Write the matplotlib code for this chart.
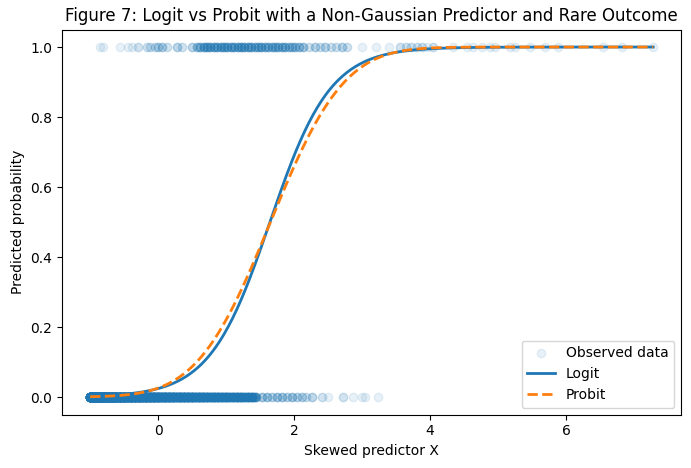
import math
import numpy as np
import matplotlib
matplotlib.use("Agg")
import matplotlib.pyplot as plt

# ---- observed outcomes (x positions, with multiplicity) ----
# y = 0 observations: dense core (-1.00 .. 1.44) then the sparse tail
x_y0 = [-1.00, -0.98, -0.96, -0.94, -0.92, -0.90, -0.88, -0.86, -0.84, -0.82,
        -0.80, -0.78, -0.76, -0.74, -0.72, -0.70, -0.68, -0.66, -0.64, -0.62,
        -0.60, -0.58, -0.56, -0.54, -0.52, -0.50, -0.48, -0.46, -0.44, -0.42,
        -0.40, -0.38, -0.36, -0.34, -0.32, -0.30, -0.28, -0.26, -0.24, -0.22,
        -0.20, -0.18, -0.16, -0.14, -0.12, -0.10, -0.08, -0.06, -0.04, -0.02,
        0.00, 0.02, 0.04, 0.06, 0.08, 0.10, 0.12, 0.14, 0.16, 0.18,
        0.20, 0.22, 0.24, 0.26, 0.28, 0.30, 0.32, 0.34, 0.36, 0.38,
        0.40, 0.42, 0.44, 0.46, 0.48, 0.50, 0.52, 0.54, 0.56, 0.58,
        0.60, 0.62, 0.64, 0.66, 0.68, 0.70, 0.72, 0.74, 0.76, 0.78,
        0.80, 0.82, 0.84, 0.86, 0.88, 0.90, 0.92, 0.94, 0.96, 0.98,
        1.00, 1.02, 1.04, 1.06, 1.08, 1.10, 1.12, 1.14, 1.16, 1.18,
        1.20, 1.22, 1.24, 1.26, 1.28, 1.30, 1.32, 1.34, 1.36, 1.38,
        1.40, 1.42, 1.44,
        1.53, 1.60, 1.67, 1.75, 1.82, 1.90, 1.97, 2.04,
        2.11, 2.18, 2.26, 2.41, 2.50, 2.72, 2.87, 3.00, 3.04, 3.24]
n_y0 = [60, 58, 56, 54, 52, 50, 48, 46, 44, 42,
        40, 39, 38, 37, 36, 35, 34, 33, 32, 31,
        30, 29, 28, 27, 26, 26, 25, 25, 24, 24,
        23, 23, 22, 22, 21, 21, 20, 20, 20, 19,
        19, 19, 18, 18, 18, 17, 17, 17, 16, 16,
        16, 16, 15, 15, 15, 15, 14, 14, 14, 14,
        14, 13, 13, 13, 13, 13, 12, 12, 12, 12,
        12, 12, 11, 11, 11, 11, 11, 11, 10, 10,
        10, 10, 10, 10, 10, 9, 9, 9, 9, 9,
        9, 9, 9, 8, 8, 8, 8, 8, 8, 8,
        8, 8, 8, 7, 7, 7, 7, 7, 7, 7,
        7, 7, 7, 6, 6, 6, 6, 6, 6, 6,
        6, 5, 5,
        4, 4, 3, 4, 4, 3, 4, 3,
        3, 2, 3, 2, 1, 2, 1, 1, 1, 1]

# y = 1 observations
x_y1 = [-0.85, -0.81, -0.56, -0.44, -0.38, -0.29, -0.16, -0.12, -0.04, 0.00,
        0.06, 0.13, 0.28, 0.35, 0.50, 0.57, 0.62, 0.67, 0.72, 0.77,
        0.82, 0.87, 0.92, 0.97, 1.02, 1.07, 1.12, 1.17, 1.22, 1.27,
        1.32, 1.37, 1.42, 1.47, 1.52, 1.57, 1.62, 1.67, 1.72, 1.77,
        1.82, 1.87, 1.92, 1.97, 2.02, 2.07, 2.13, 2.22, 2.30, 2.38,
        2.46, 2.54, 2.62, 2.70, 2.78, 3.00, 3.20, 3.40, 3.56, 3.64,
        3.72, 3.80, 3.88, 3.96, 4.04, 4.34, 4.54, 4.63, 4.76, 4.88,
        4.96, 5.18, 5.25, 5.47, 5.69, 5.88, 6.54, 6.82, 7.28]
n_y1 = [1, 1, 1, 1, 1, 2, 2, 2, 2, 3,
        3, 2, 3, 2, 3, 4, 5, 6, 6, 6,
        6, 6, 6, 6, 6, 6, 6, 6, 6, 6,
        6, 6, 5, 5, 6, 5, 5, 5, 5, 5,
        5, 5, 4, 4, 4, 4, 4, 2, 3, 2,
        3, 2, 2, 3, 2, 1, 1, 1, 2, 2,
        2, 2, 2, 1, 2, 1, 1, 1, 1, 1,
        1, 1, 1, 1, 1, 1, 1, 1, 1]

# ---- fitted model coefficients (estimated from the curves) ----
logit_intercept, logit_slope = -3.70, 2.25
probit_intercept, probit_slope = -1.95, 1.18

labels = {"title": "Figure 7: Logit vs Probit with a Non-Gaussian Predictor and Rare Outcome",
          "x": "Skewed predictor X", "y": "Predicted probability"}

# ---- build arrays ----
xs = np.concatenate([np.repeat(x_y0, n_y0), np.repeat(x_y1, n_y1)])
ys = np.concatenate([np.zeros(int(np.sum(n_y0))), np.ones(int(np.sum(n_y1)))])

grid = np.linspace(xs.min(), xs.max(), 400)
p_logit = 1.0 / (1.0 + np.exp(-(logit_intercept + logit_slope * grid)))
erf_v = np.vectorize(math.erf)
p_probit = 0.5 * (1.0 + erf_v((probit_intercept + probit_slope * grid) / math.sqrt(2.0)))

fig = plt.figure(figsize=(6.91, 4.68), dpi=100)
ax = fig.add_axes([0.0897, 0.1143, 0.8963, 0.8226])
ax.scatter(xs, ys, alpha=0.1, label="Observed data")
ax.plot(grid, p_logit, linewidth=2, label="Logit")
ax.plot(grid, p_probit, linestyle="--", linewidth=2, label="Probit")
ax.set_title(labels["title"])
ax.set_xlabel(labels["x"])
ax.set_ylabel(labels["y"])
ax.legend(loc="lower right")
fig.savefig("out.png", dpi=100)
